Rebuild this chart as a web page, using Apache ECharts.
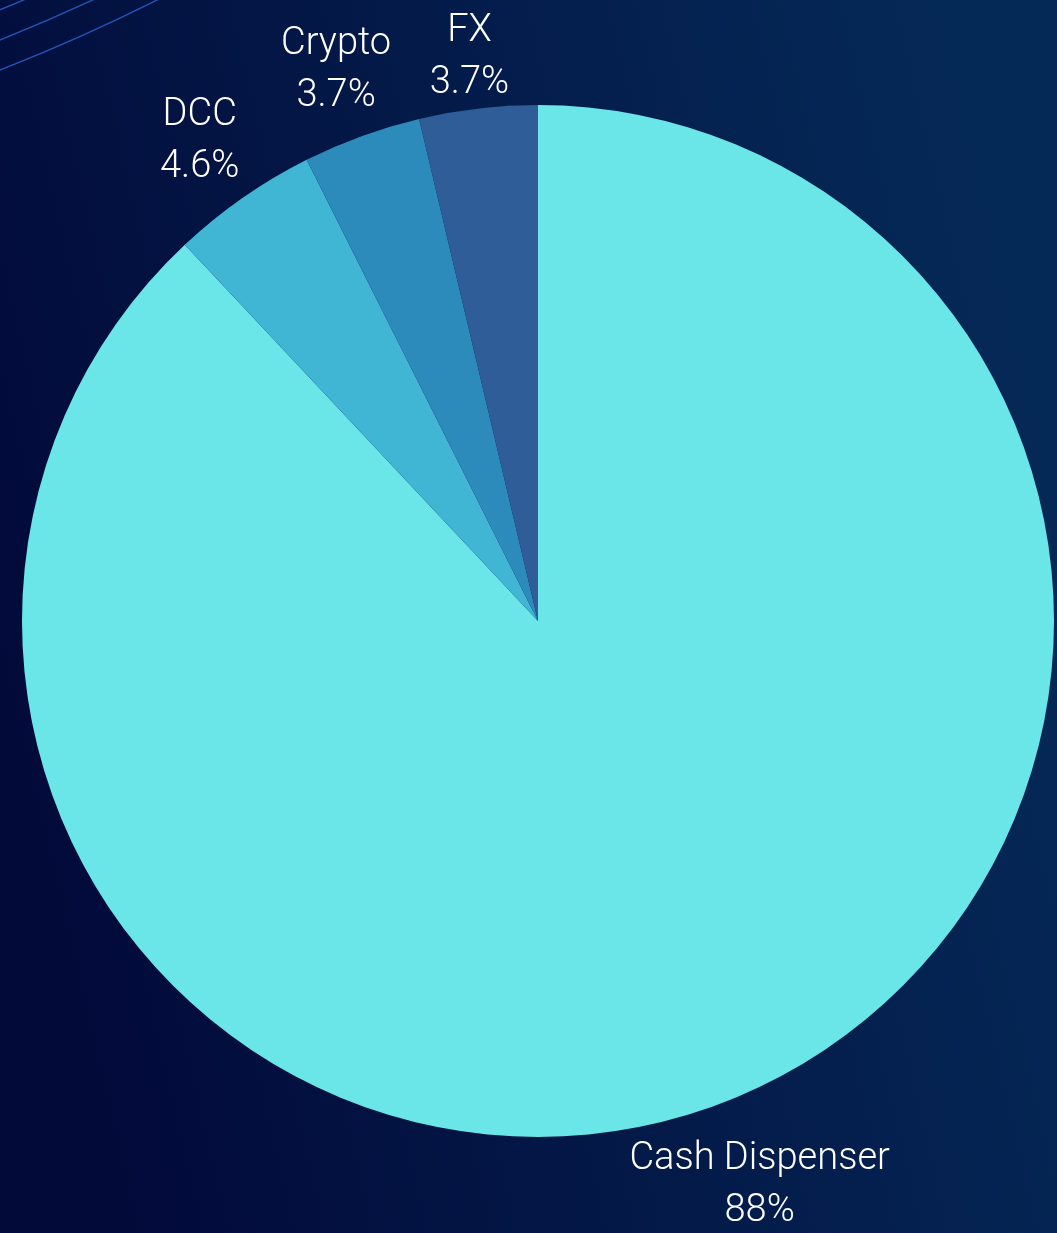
<!DOCTYPE html>
<html>
<head>
<meta charset="utf-8">
<script src="https://cdn.jsdelivr.net/npm/echarts@6/dist/echarts.min.js"></script>
<style>
  html, body { margin: 0; padding: 0; background: #031338; }
  #chart { width: 1057px; height: 1233px; }
</style>
</head>
<body>
<div id="chart"></div>
<script>
// ---- data ----
const categories = ['Cash Dispenser', 'DCC', 'Crypto', 'FX'];
const shares = [88, 4.6, 3.7, 3.7];
const sliceColors = ['#6ae6e8', '#40b6d4', '#2c8bbb', '#2e5d97'];
const labelDistances = [86, 75, 75, 75];

const chart = echarts.init(document.getElementById('chart'), null, { renderer: 'canvas' });

const pieData = categories.map((name, i) => ({
  name: name,
  value: shares[i],
  itemStyle: { color: sliceColors[i] },
  labelLine: { length: labelDistances[i], length2: 0, show: false }
}));

// decorative rings in the top-left corner
const rings = [1825, 1853, 1881].map(r => ({
  type: 'circle',
  silent: true,
  shape: { cx: -687, cy: -1681, r: r },
  style: { fill: 'none', stroke: '#2456b8', lineWidth: 1.4 }
}));

chart.setOption({
  backgroundColor: {
    type: 'linear', x: 0, y: 0.6, x2: 1, y2: 0.4,
    colorStops: [
      { offset: 0, color: '#020a3a' },
      { offset: 1, color: '#052957' }
    ]
  },
  graphic: rings,
  series: [{
    type: 'pie',
    center: [538, 621],
    radius: 516,
    startAngle: 90,
    clockwise: true,
    avoidLabelOverlap: false,
    animation: false,
    data: pieData,
    label: {
      show: true,
      position: 'outside',
      color: '#ffffff',
      fontFamily: 'Roboto',
      fontWeight: 300,
      fontSize: 38,
      lineHeight: 52,
      distanceToLabelLine: 0,
      formatter: p => p.name + '\n' + p.value + '%'
    },
    labelLine: { show: false, length: 75, length2: 0 },
    labelLayout: function (p) {
      const out = { align: 'center', dy: 5 };
      if (p.labelRect.y < 0) {
        out.y = p.labelRect.height / 2;
      }
      return out;
    },
    emphasis: { disabled: true }
  }]
});
</script>
</body>
</html>
